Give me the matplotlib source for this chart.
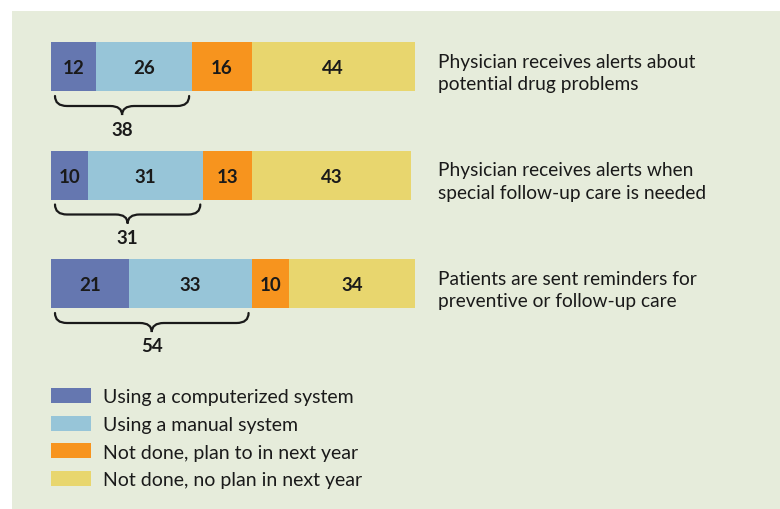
import matplotlib
matplotlib.use('Agg')
import matplotlib.pyplot as plt
from matplotlib.patches import Rectangle, PathPatch, Patch
from matplotlib.path import Path

items = ["Physician receives alerts about\npotential drug problems",
         "Physician receives alerts when\nspecial follow-up care is needed",
         "Patients are sent reminders for\npreventive or follow-up care"]
series = ["Using a computerized system", "Using a manual system",
          "Not done, plan to in next year", "Not done, no plan in next year"]
computerized = [12, 10, 21]
manual = [26, 31, 33]
plan = [16, 13, 10]
no_plan = [44, 43, 34]
brace_totals = [38, 31, 54]
colors = ['#6577b0', '#97c5d8', '#f7941e', '#e8d66e']

W, H = 780, 510
fig = plt.figure(figsize=(7.8, 5.1), dpi=100)
fig.patch.set_facecolor('white')
fig.patches.append(Rectangle((12 / W, 0), 1, 1 - 12 / H, transform=fig.transFigure,
                             facecolor='#e6ecdb', edgecolor='none', zorder=-10))
ax = fig.add_axes([0, 0, 1, 1])
ax.set_facecolor('none')
ppu_x = 364 / 98
ppu_y = 108.5
x0px, y0px = 51, 67.5
ax.set_xlim(-x0px / ppu_x, (W - x0px) / ppu_x)
ax.set_ylim((H - y0px) / ppu_y, -y0px / ppu_y)
ax.axis('off')

num_font = dict(family=['Lato', 'DejaVu Sans'], fontweight='bold', fontsize=13.5, color='#1a1a1a')
txt_font = dict(family=['Lato', 'DejaVu Sans'], fontsize=13.8, color='#1a1a1a')

bar_h = 49 / ppu_y
ypos = list(range(len(items)))
data = [computerized, manual, plan, no_plan]
left = [0] * len(items)
for vals, col in zip(data, colors):
    bars = ax.barh(ypos, vals, left=left, height=bar_h, color=col, edgecolor='none')
    for y, v, l in zip(ypos, vals, left):
        ax.text(l + v / 2, y + 0.01, str(v), ha='center', va='center', **num_font)
    left = [a + b for a, b in zip(left, vals)]

sx = 1 / ppu_x
sy = 1 / ppu_y
for y, c, m, tot in zip(ypos, computerized, manual, brace_totals):
    xa = 4 * sx
    xb = c + m - 3 * sx
    xc = (xa + xb) / 2
    top = y + bar_h / 2 + 5 * sy
    mid = top + 10 * sy
    tip = top + 19 * sy
    r = 12 * sx
    verts = [(xa, top), (xa, mid), (xa + r, mid),
             (xc - r, mid), (xc, mid), (xc, tip),
             (xc, mid), (xc + r, mid),
             (xb - r, mid), (xb, mid), (xb, top)]
    codes = [Path.MOVETO, Path.CURVE3, Path.CURVE3,
             Path.LINETO, Path.CURVE3, Path.CURVE3,
             Path.CURVE3, Path.CURVE3,
             Path.LINETO, Path.CURVE3, Path.CURVE3]
    ax.add_patch(PathPatch(Path(verts, codes), facecolor='none', edgecolor='#1a1a1a', lw=1.6, capstyle='round'))
    ax.text(xc, tip + 14 * sy, str(tot), ha='center', va='center', **num_font)

for y, lab in zip(ypos, items):
    ax.text((438 - x0px) / ppu_x, y + 6 * sy, lab, ha='left', va='center', linespacing=1.4, **txt_font)

handles = [Patch(facecolor=c, edgecolor='none', label=s) for c, s in zip(colors, series)]
fs = 14
fs_px = fs * 100 / 72
leg = fig.legend(handles=handles, loc='upper left', bbox_to_anchor=(51 / W, 1 - 389 / H),
                 frameon=False, borderpad=0, borderaxespad=0,
                 handlelength=40 / fs_px, handleheight=16 / fs_px, handletextpad=12 / fs_px,
                 labelspacing=0.53, prop={'family': 'Lato', 'size': fs})
for t in leg.get_texts():
    t.set_color('#1a1a1a')

fig.savefig('out.png', dpi=100, facecolor=fig.get_facecolor())
